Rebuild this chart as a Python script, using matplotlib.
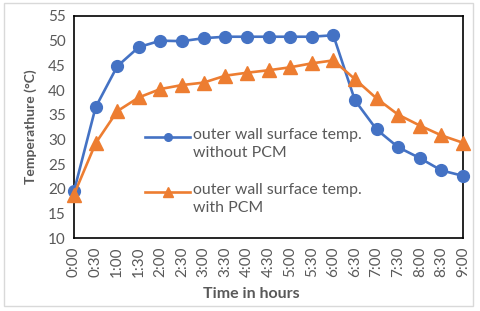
import numpy as np
import matplotlib.pyplot as plt
from matplotlib.patches import Rectangle
from matplotlib.lines import Line2D

times = ["0:00", "0:30", "1:00", "1:30", "2:00", "2:30", "3:00", "3:30", "4:00", "4:30",
         "5:00", "5:30", "6:00", "6:30", "7:00", "7:30", "8:00", "8:30", "9:00"]
without_pcm = [19.5, 36.5, 44.8, 48.7, 50.0, 49.9, 50.5, 50.8, 50.8, 50.8,
               50.8, 50.8, 51.1, 37.9, 32.0, 28.4, 26.2, 23.7, 22.6]
with_pcm = [18.8, 29.2, 35.7, 38.5, 40.2, 41.0, 41.5, 42.9, 43.5, 44.0,
            44.6, 45.4, 46.0, 42.2, 38.3, 35.0, 32.8, 30.8, 29.3]
labels = ["outer wall surface temp.\nwithout PCM", "outer wall surface temp.\nwith PCM"]

plt.rcParams['font.family'] = ['Lato', 'DejaVu Sans']
gray = "#595959"
blue = "#4472C4"
orange = "#ED7D31"

fig = plt.figure(figsize=(4.8, 3.11), dpi=100)
fig.patches.append(Rectangle((4 / 480, 1 - 306 / 311), 469 / 480, 303 / 311,
                             transform=fig.transFigure, fill=False,
                             edgecolor="#d9d9d9", linewidth=1.0))

ax = fig.add_axes([74 / 480, 1 - 238 / 311, 389 / 480, 222 / 311])
x = np.arange(len(times))

ax.plot(x, without_pcm, color=blue, marker="o", markersize=8.5, linewidth=1.9,
        clip_on=False, zorder=3)
ax.plot(x, with_pcm, color=orange, marker="^", markersize=9.5, linewidth=1.9,
        clip_on=False, zorder=3)

ax.set_xlim(0, len(times) - 1)
ax.set_ylim(10, 55)
ax.set_yticks(range(10, 56, 5))
ax.set_xticks(x)
ax.set_xticklabels(times, rotation=90)
ax.tick_params(length=0, labelsize=11, labelcolor=gray, pad=6)

for s in ax.spines.values():
    s.set_color("black")
    s.set_linewidth(1.2)

ax.set_ylabel("Temperathure (°C)", fontsize=10, fontweight="bold", color=gray, labelpad=8)
ax.set_xlabel("Time in hours", fontsize=11.5, fontweight="bold", color=gray)
ax.xaxis.set_label_coords((251 - 74) / 389, (238 - 294) / 222)
ax.xaxis.label.set_va("center")

# legend drawn by hand so the key sits on the first text line
for (ytop, col, mk, ms), lab in zip([(137, blue, "o", 5.5), (192, orange, "^", 6.5)], labels):
    yf = 1 - ytop / 311
    fig.lines.append(Line2D([145 / 480, 190 / 480], [yf, yf], transform=fig.transFigure,
                            color=col, linewidth=1.9))
    fig.lines.append(Line2D([167.5 / 480], [yf], transform=fig.transFigure,
                            color=col, marker=mk, markersize=ms, linestyle="none"))
    fig.text(193 / 480, yf + 9 / 311, lab, fontsize=11.4, color=gray, va="top",
             ha="left", linespacing=1.4)

fig.savefig("out.png", dpi=100)
